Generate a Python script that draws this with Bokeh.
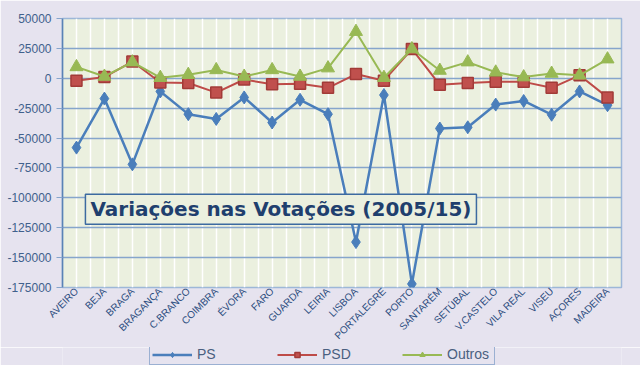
import math
from bokeh.plotting import figure
from bokeh.layouts import column
from bokeh.models import (FixedTicker, Legend, LegendItem, Label,
                          PrintfTickFormatter, ColumnDataSource, Range1d)
from bokeh.embed import file_html
from bokeh.resources import INLINE

distritos = ["AVEIRO", "BEJA", "BRAGA", "BRAGANÇA", "C.BRANCO", "COIMBRA",
             "ÉVORA", "FARO", "GUARDA", "LEIRIA", "LISBOA", "PORTALEGRE",
             "PORTO", "SANTARÉM", "SETÚBAL", "V.CASTELO", "VILA REAL",
             "VISEU", "AÇORES", "MADEIRA"]

ps = [-58000, -17000, -72000, -11000, -30000, -34000, -16000, -37000,
      -18000, -30000, -137000, -14000, -172000, -42000, -41000, -22000,
      -19000, -30500, -11000, -22500]
psd = [-2000, 1000, 14000, -3500, -4000, -12000, -1000, -5000, -4500,
       -8000, 3500, -2000, 24500, -5500, -4000, -3000, -3000, -8000,
       2500, -16000]
outros = [9500, 1500, 13500, 500, 3000, 7000, 1500, 7000, 1500, 8500,
          39000, 500, 24500, 6500, 13500, 5000, 1000, 4000, 2500, 16000]

y_ticks = [50000, 25000, 0, -25000, -50000, -75000, -100000, -125000,
           -150000, -175000]
titulo = "Variações nas Votações (2005/15)"

idx = list(range(len(distritos)))
src = ColumnDataSource(dict(x=idx, ps=ps, psd=psd, outros=outros))

OUTER = "#E6E3EF"
PLOT_BG = "#EBF0DF"
GRID = "#86A5CC"
LABEL = "#2B4C7E"
PS_C, PSD_C, OUT_C = "#4A7EBB", "#BE4B48", "#98B954"

p = figure(width=640, height=347, output_backend="svg", toolbar_location=None,
           x_range=Range1d(-0.5, len(distritos) - 0.5),
           y_range=Range1d(min(y_ticks), max(y_ticks)),
           min_border_left=62, min_border_right=19, min_border_top=18,
           min_border_bottom=55)
p.background_fill_color = PLOT_BG
p.border_fill_color = OUTER
p.outline_line_color = "#9DB7D8"
p.outline_line_width = 1.5

# x axis
p.xaxis.ticker = FixedTicker(ticks=idx,
                             minor_ticks=[i - 0.5 for i in range(len(distritos) + 1)])
p.xaxis.major_label_overrides = {i: d for i, d in enumerate(distritos)}
p.xaxis.major_label_orientation = math.pi / 4
p.xaxis.major_label_text_font = "Liberation Sans"
p.xaxis.major_label_text_font_size = "10px"
p.xaxis.major_label_text_color = LABEL
p.xaxis.axis_line_color = None
p.xaxis.major_tick_line_color = None
p.xaxis.major_tick_out = 0
p.xaxis.major_tick_in = 0
p.xaxis.minor_tick_line_color = None
p.xaxis.minor_tick_out = 0
p.xaxis.major_label_standoff = 2

# y axis
p.yaxis.ticker = FixedTicker(ticks=y_ticks)
p.yaxis.formatter = PrintfTickFormatter(format="%d")
p.yaxis.major_label_text_font = "Liberation Sans"
p.yaxis.major_label_text_font_size = "12px"
p.yaxis.major_label_text_color = "#40608C"
p.yaxis.axis_line_color = "#5A82B6"
p.yaxis.axis_line_width = 1.5
p.yaxis.major_tick_line_color = GRID
p.yaxis.major_tick_in = 0
p.yaxis.major_tick_out = 6
p.yaxis.minor_tick_line_color = None
p.yaxis.major_label_standoff = 5

# grids
p.ygrid.grid_line_color = GRID
p.ygrid.grid_line_width = 1.5
p.xgrid.grid_line_color = "white"
p.xgrid.grid_line_width = 1.5
p.xgrid.minor_grid_line_color = "white"
p.xgrid.minor_grid_line_width = 1.5


def draw_series(fig):
    l1 = fig.line("x", "ps", source=src, line_color=PS_C, line_width=2.5)
    m1 = fig.scatter("x", "ps", source=src, marker="diamond", size=13,
                     fill_color=PS_C, line_color=PS_C)
    l2 = fig.line("x", "psd", source=src, line_color=PSD_C, line_width=2)
    m2 = fig.scatter("x", "psd", source=src, marker="square", size=11,
                     fill_color="#C0504D", line_color="#A23B38", line_width=1.5)
    l3 = fig.line("x", "outros", source=src, line_color=OUT_C, line_width=2)
    m3 = fig.scatter("x", "outros", source=src, marker="triangle", size=13,
                     fill_color=OUT_C, line_color=OUT_C)
    return (l1, m1), (l2, m2), (l3, m3)


draw_series(p)

# title box
lab = Label(x=0.32, y=-109500, text=titulo, text_baseline="middle",
            text_font="DejaVu Sans", text_font_style="bold",
            text_font_size="20px", text_color="#1F3F6E",
            border_line_color="#3C6AA0", border_line_width=1.5,
            background_fill_color=PLOT_BG,
            padding=dict(left=5, right=5, top=3, bottom=3))
p.add_layout(lab)

# legend strip below the chart (series kept out of view; only the legend shows)
pl = figure(width=640, height=18, output_backend="svg", toolbar_location=None,
            x_range=Range1d(1000, 1001), y_range=Range1d(1000, 1001),
            x_axis_location=None, y_axis_location=None, min_border=0)
pl.grid.visible = False
pl.outline_line_color = None
pl.background_fill_color = OUTER
pl.border_fill_color = OUTER
r_ps, r_psd, r_out = draw_series(pl)

legend = Legend(items=[LegendItem(label="PS", renderers=list(r_ps)),
                       LegendItem(label="PSD", renderers=list(r_psd)),
                       LegendItem(label="Outros", renderers=list(r_out))],
                orientation="horizontal", location=(87, 0),
                glyph_width=40, glyph_height=13, label_height=13,
                label_standoff=5, spacing=35, padding=2, margin=0,
                label_width=45,
                label_text_font="Liberation Sans", label_text_font_size="14px",
                label_text_color="#4A5F80",
                border_line_color="#4F7DB5", border_line_width=1.2,
                background_fill_color=OUTER, background_fill_alpha=1)
pl.add_layout(legend, "center")

layout = column(p, pl, spacing=0)
open("out.html", "w").write(file_html(layout, INLINE))
